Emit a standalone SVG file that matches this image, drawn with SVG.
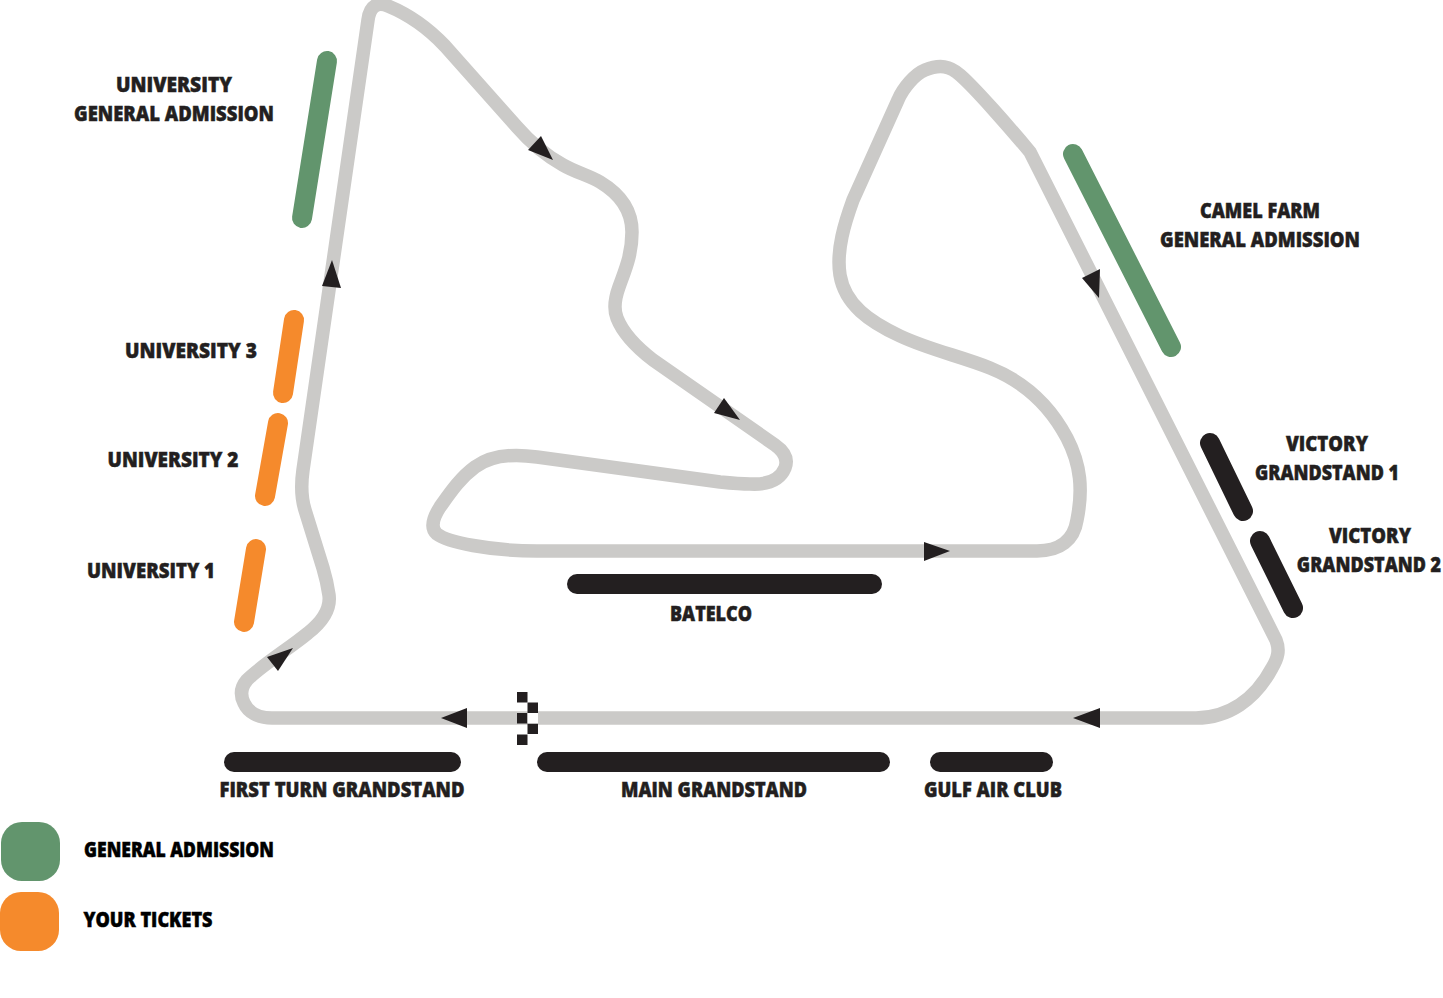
<svg xmlns="http://www.w3.org/2000/svg" width="1443" height="998" viewBox="0 0 1443 998">
<style>
.t{fill:none;stroke:#cbcac8;stroke-width:13.500;stroke-linejoin:round}
.s{fill:none;stroke-width:20;stroke-linecap:round}
.g{stroke:#62956d}.o{stroke:#f58a2c}.k{stroke:#231f20}
.a{fill:#231f20}
text{font-family:"Open Sans","Noto Sans",sans-serif;font-weight:800;font-size:21px;fill:#231f20;stroke:#231f20;stroke-width:.5;text-anchor:middle}
.b{fill:#000;stroke:#000}
</style>
<rect width="1443" height="998" fill="#fff"/>
<g id="connectors">
<path class="t" d="M1030 152L1276 640C1280 650 1278 658 1272 668C1255 700 1228 718 1196 718L272 718C258 718 248 712 244 703C240 695 241 687 247 680C262 665 290 648 308 633C322 622 331 610 329 595C328 588 326 578 323 568L305 510C301 497 301 484 303 470L368 20C370 5 378 2 388 6C410 15 428 28 445 46L517 127C530 142 545 155 563 165C575 172 590 176 600 182C620 194 632 210 632 232C632 255 625 270 619 287C615 298 613 308 617 318C624 336 640 350 653 360L775 445C785 452 788 460 785 468C780 480 768 485 750 484C740 484 730 483 720 482L537 457C510 453 490 456 475 467C460 478 450 493 440 507C433 518 430 528 437 534C447 542 490 551 537 551L1037 551C1060 551 1074 540 1077 520C1083 490 1081 465 1067 438C1047 400 1020 380 990 368C960 356 930 350 900 336C870 322 845 305 840 275C836 250 845 222 853 200L898 100C903 88 915 74 925 70C940 64 950 66 960 75C975 88 1010 128 1030 152Z"/>
<path class="a" d="M541 136L528 150L553 160Z"/>
<path class="a" d="M332 260L341 288L322 286Z"/>
<path class="a" d="M724 398L714 413L740 420Z"/>
<path class="a" d="M950 551L924 542L924 561Z"/>
<path class="a" d="M1099 298L1082 278L1100 269Z"/>
<path class="a" d="M1073 718L1100 708L1100 728Z"/>
<path class="a" d="M441 718L467 708L467 728Z"/>
<path class="a" d="M293 648L267 657L278 671Z"/>
</g>
<g id="finish-flag" class="a">
<rect x="517" y="692" width="10.500" height="10.500"/>
<rect x="527.500" y="702.500" width="10.500" height="10.500"/>
<rect x="517" y="713" width="10.500" height="10.500"/>
<rect x="527.500" y="723.500" width="10.500" height="10.500"/>
<rect x="517" y="734.500" width="10.500" height="10.500"/>
<rect x="527.500" y="713" width="10.500" height="10.500" fill="#fff"/>
</g>
<g id="university-ga"><path class="s g" d="M327 61L302 218"/><text x="174" y="92" textLength="116" lengthAdjust="spacingAndGlyphs">UNIVERSITY</text><text x="174" y="121" textLength="200" lengthAdjust="spacingAndGlyphs">GENERAL ADMISSION</text></g>
<g id="university-3"><path class="s o" d="M294 320L283 393"/><text x="191" y="358" textLength="132" lengthAdjust="spacingAndGlyphs">UNIVERSITY 3</text></g>
<g id="university-2"><path class="s o" d="M278 423L265 496"/><text x="173" y="467" textLength="131" lengthAdjust="spacingAndGlyphs">UNIVERSITY 2</text></g>
<g id="university-1"><path class="s o" d="M256 549L244 622"/><text x="151" y="578" textLength="128" lengthAdjust="spacingAndGlyphs">UNIVERSITY 1</text></g>
<g id="camel-farm"><path class="s g" d="M1073 154L1171 347"/><text x="1260" y="218" textLength="120" lengthAdjust="spacingAndGlyphs">CAMEL FARM</text><text x="1260" y="247" textLength="200" lengthAdjust="spacingAndGlyphs">GENERAL ADMISSION</text></g>
<g id="victory-1"><path class="s k" d="M1210 443L1243 511"/><text x="1327" y="451" textLength="82" lengthAdjust="spacingAndGlyphs">VICTORY</text><text x="1327" y="480" textLength="144" lengthAdjust="spacingAndGlyphs">GRANDSTAND 1</text></g>
<g id="victory-2"><path class="s k" d="M1260 541L1293 608"/><text x="1370" y="543" textLength="82" lengthAdjust="spacingAndGlyphs">VICTORY</text><text transform="translate(1369 572) scale(.857 1)">GRANDSTAND 2</text></g>
<g id="batelco"><path class="s k" d="M577 584L872 584"/><text x="711" y="621" textLength="82" lengthAdjust="spacingAndGlyphs">BATELCO</text></g>
<g id="first-turn"><path class="s k" d="M234 762L451 762"/><text x="342" y="797" textLength="245" lengthAdjust="spacingAndGlyphs">FIRST TURN GRANDSTAND</text></g>
<g id="main-grandstand"><path class="s k" d="M547 762L880 762"/><text x="714" y="797" textLength="186" lengthAdjust="spacingAndGlyphs">MAIN GRANDSTAND</text></g>
<g id="gulf-air"><path class="s k" d="M940 762L1043 762"/><text x="993" y="797" textLength="138" lengthAdjust="spacingAndGlyphs">GULF AIR CLUB</text></g>
<g id="legend-ga"><rect x="1" y="822" width="59" height="59" rx="21" fill="#62956d"/><text class="b" x="179" y="857" textLength="190" lengthAdjust="spacingAndGlyphs">GENERAL ADMISSION</text></g>
<g id="legend-tickets"><rect x="0" y="892" width="59" height="59" rx="21" fill="#f58a2c"/><text class="b" x="148" y="927" textLength="129" lengthAdjust="spacingAndGlyphs">YOUR TICKETS</text></g>
</svg>
